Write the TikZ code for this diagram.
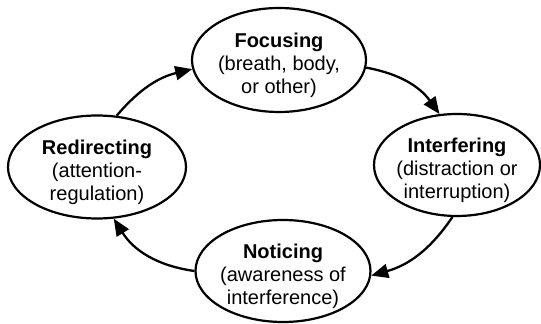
\documentclass[tikz,border=0pt]{standalone}
\usepackage{fontspec}
\setmainfont{Liberation Sans}
\usetikzlibrary{arrows.meta,shapes.geometric}
\begin{document}
\begin{tikzpicture}[x=1pt,y=1pt,
  stage/.style={draw, line width=2.2pt, ellipse, inner sep=0pt},
  label/.style={align=center, inner sep=0pt, yshift=-5pt,
    font=\fontsize{20}{23}\selectfont},
  flow/.style={line width=2.3pt, -{Triangle[length=17pt,width=14pt]}}]
\useasboundingbox (0,0) rectangle (541,324);
\node[stage, minimum width=174pt, minimum height=104pt] (foc) at (279,264) {};
\node[stage, minimum width=166pt, minimum height=102pt] (int) at (457,159) {};
\node[stage, minimum width=175pt, minimum height=102pt] (not) at (283,53) {};
\node[stage, minimum width=178pt, minimum height=103pt] (red) at (97,157) {};
\node[label] (foct) at (foc.center) {\textbf{Focusing}\\(breath, body,\\or other)};
\node[label] (intt) at (int.center) {\textbf{Interfering}\\(distraction or\\interruption)};
\node[label] (nott) at (not.center) {\textbf{Noticing}\\(awareness of\\interference)};
\node[label] (redt) at (red.center) {\textbf{Redirecting}\\(attention-\\regulation)};
\draw[flow] (red.69) to[bend left=18] (foc.186);
\draw[flow] (foc.355) to[bend left=22] (int.109);
\draw[flow] (int.265) to[bend left=20] (not.357);
\draw[flow] (not.180) to[bend left=25] (red.288);
\end{tikzpicture}
\end{document}
